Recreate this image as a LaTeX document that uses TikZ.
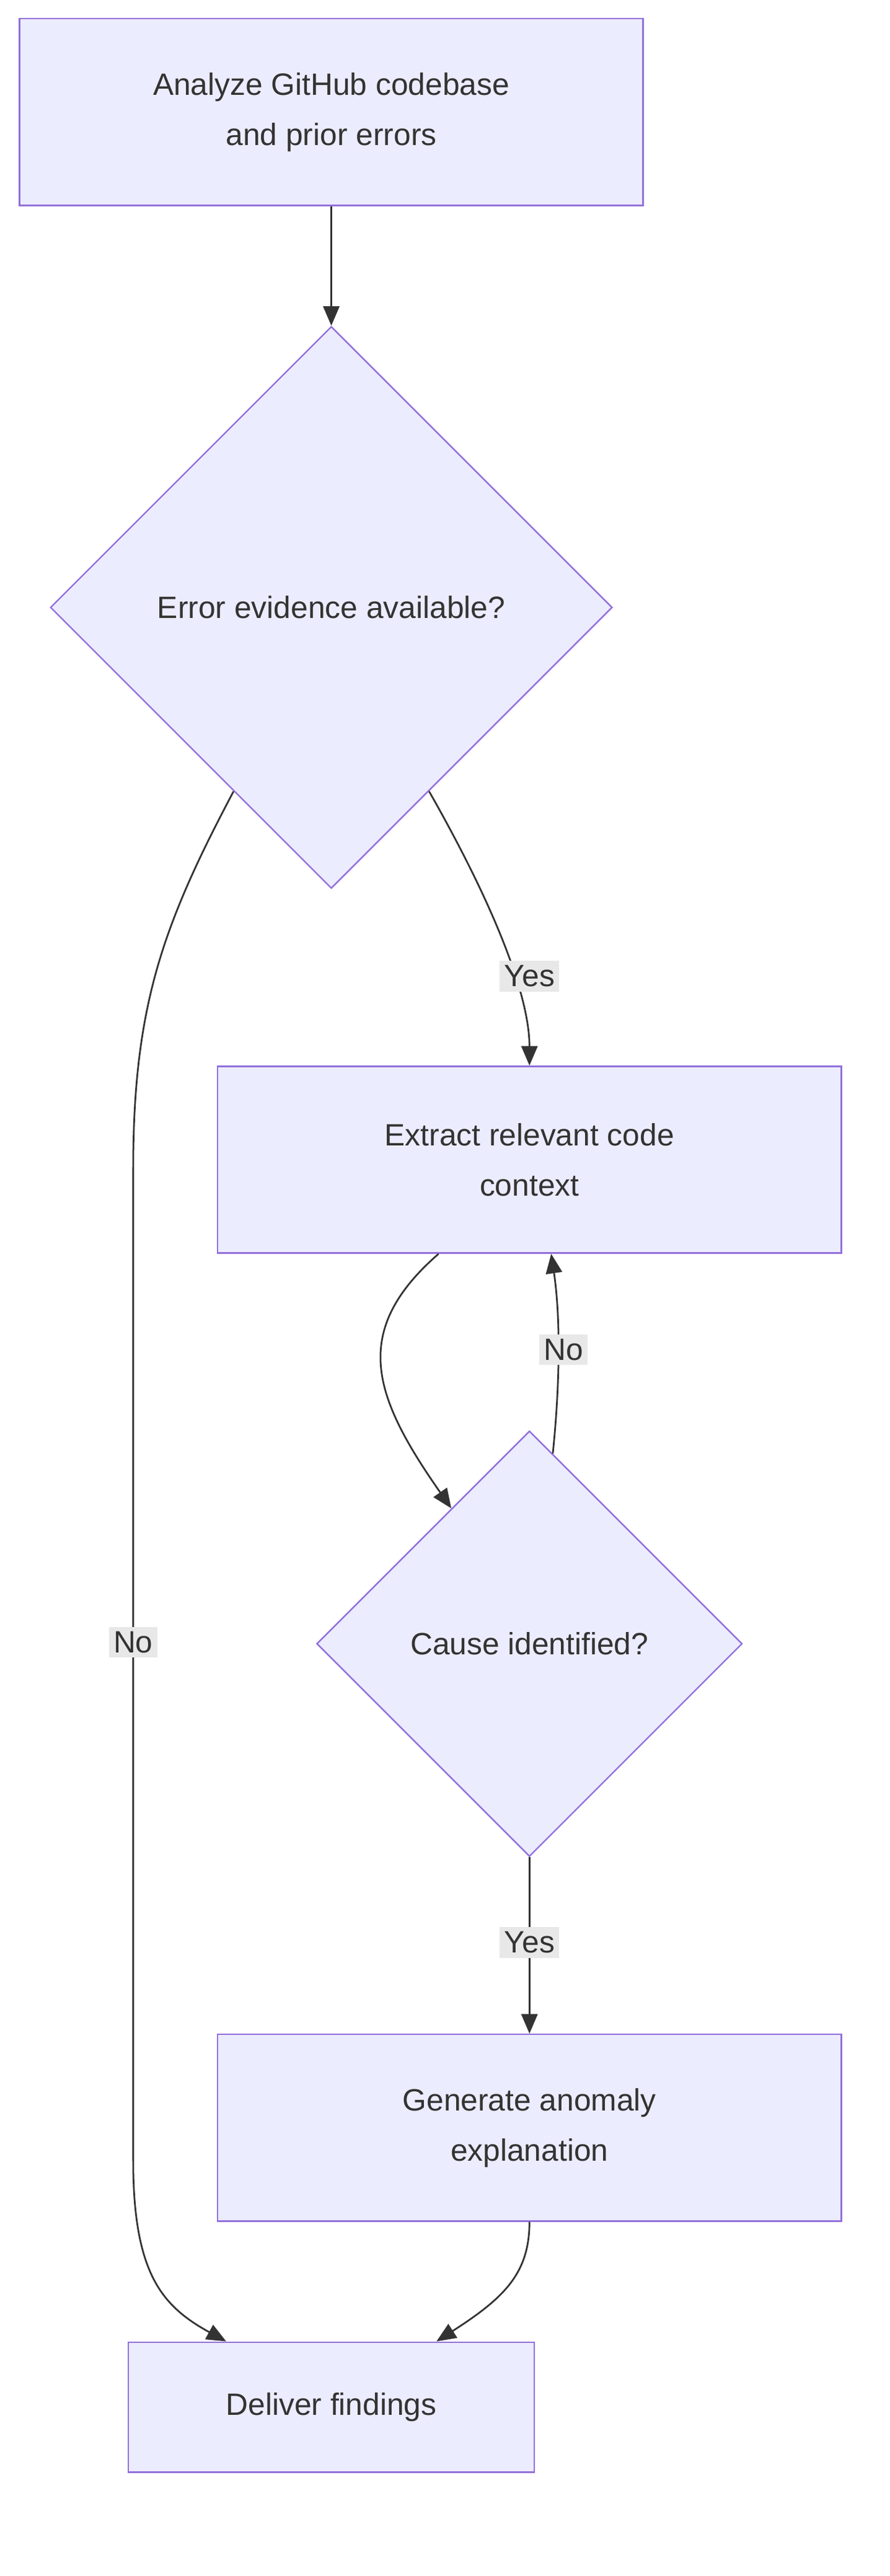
\documentclass[tikz,border=0pt]{standalone}
\usepackage{fontspec}
\setmainfont{Liberation Sans}
\usetikzlibrary{arrows.meta,shapes.geometric}
\definecolor{boxfill}{HTML}{ECECFF}
\definecolor{boxline}{HTML}{9370DB}
\definecolor{ink}{HTML}{333333}
\definecolor{lblfill}{HTML}{E8E8E8}
\tikzset{
  procbox/.style={rectangle,draw=boxline,fill=boxfill,line width=1.3pt,text=ink,
    minimum width=19.2cm,minimum height=5.75cm,align=center,
    font=\fontsize{27}{44}\selectfont},
  testbox/.style={diamond,draw=boxline,fill=boxfill,line width=1.3pt,text=ink,
    inner sep=0pt,align=center,font=\fontsize{27}{44}\selectfont},
  flow/.style={draw=ink,line width=1.5pt,-{Triangle[length=0.6cm,width=0.5cm]}},
  lbl/.style={fill=lblfill,text=ink,inner sep=4pt,font=\fontsize{27}{32}\selectfont}
}
\begin{document}
\begin{tikzpicture}[x=0.05cm,y=-0.05cm]
\useasboundingbox (0,0) rectangle (548,1586);

    \node [procbox] (scan) at (204,69) {Analyze GitHub codebase\\and prior errors};
    \node [testbox, minimum width=17.3cm, minimum height=17.3cm] (evid) at (204,374) {Error evidence available?};
    \node [procbox] (ctx) at (326,714) {Extract relevant code\\context};
    \node [testbox, minimum width=13.1cm, minimum height=13.1cm] (cause) at (326,1012) {Cause identified?};
    \node [procbox] (expl) at (326,1310) {Generate anomaly\\explanation};
    \node [procbox, minimum width=12.5cm, minimum height=4cm] (done) at (204,1482) {Deliver findings};

    \draw [flow] (scan) -- (evid);
    \draw [flow] (evid.-62) .. controls (300,550) and (326,610) .. (ctx.north);
    \draw [flow] (evid.-118) .. controls (100,570) and (82,620) .. (82,720)
        -- (82,1330) .. controls (82,1400) and (100,1420) .. (done.148);
    \draw [flow] (ctx.-134) .. controls (215,820) and (230,860) .. (cause.120);
    \draw [flow] (cause.83) .. controls (345,850) and (345,810) .. (ctx.-77);
    \draw [flow] (cause.south) -- (expl.north);
    \draw [flow] (expl.south) .. controls (326,1400) and (310,1415) .. (done.32);

    \node [lbl] (yes1) at (326,601) {Yes};
    \node [lbl] (no1) at (347,831) {No};
    \node [lbl] (no2) at (82,1011) {No};
    \node [lbl] (yes2) at (326,1196) {Yes};

\end{tikzpicture}
\end{document}
